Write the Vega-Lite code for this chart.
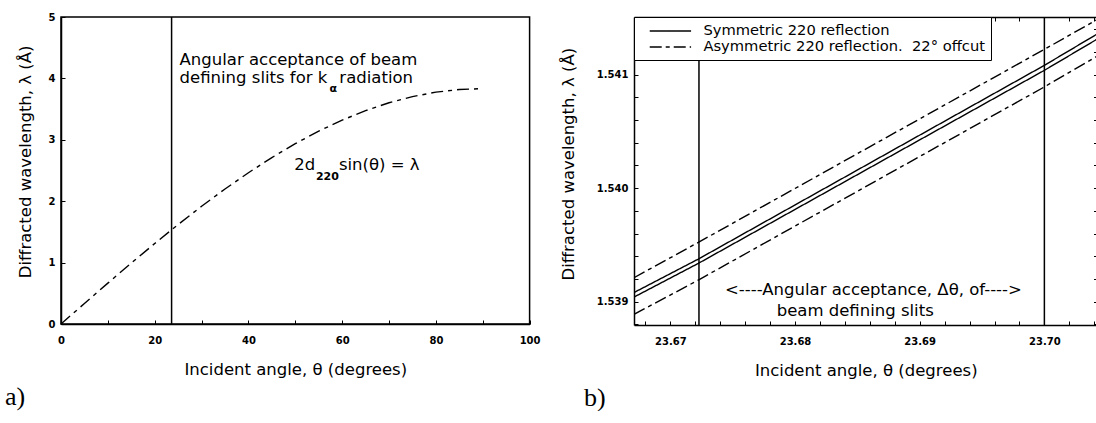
{
  "$schema": "https://vega.github.io/schema/vega-lite/v6.json",
  "background": "white",
  "padding": {"left": 4, "top": 11, "right": 0, "bottom": 0},
  "spacing": 19,
  "resolve": {"legend": {"strokeDash": "independent"}},
  "config": {
    "axis": {
      "grid": false,
      "tickSize": -4,
      "tickColor": "black",
      "tickWidth": 1,
      "domainColor": "black",
      "domainWidth": 1.5,
      "labelFont": "DejaVu Sans",
      "labelFontSize": 10,
      "labelFontWeight": "bold",
      "labelColor": "black",
      "labelOverlap": false,
      "labelFlush": false,
      "titleFont": "DejaVu Sans",
      "titleFontSize": 16.5,
      "titleFontWeight": "normal",
      "titleColor": "black"
    },
    "axisX": {"labelPadding": 15, "titlePadding": 16},
    "axisY": {"labelPadding": 10}
  },
  "hconcat": [
    {
      "width": 468.6,
      "height": 307,
      "title": {"text": "a)", "orient": "bottom", "anchor": "start", "font": "Liberation Serif", "fontSize": 26, "fontWeight": "normal", "color": "black", "offset": 6, "dx": -12},
      "view": {"stroke": "black", "strokeWidth": 1.5},
      "layer": [
        {
          "data": {"values": [
            {"theta": 0, "lambda": 0},
            {"theta": 5, "lambda": 0.334},
            {"theta": 10, "lambda": 0.666},
            {"theta": 15, "lambda": 0.992},
            {"theta": 20, "lambda": 1.311},
            {"theta": 23.6, "lambda": 1.535},
            {"theta": 25, "lambda": 1.620},
            {"theta": 30, "lambda": 1.917},
            {"theta": 35, "lambda": 2.199},
            {"theta": 40, "lambda": 2.464},
            {"theta": 45, "lambda": 2.711},
            {"theta": 50, "lambda": 2.937},
            {"theta": 55, "lambda": 3.141},
            {"theta": 60, "lambda": 3.320},
            {"theta": 65, "lambda": 3.475},
            {"theta": 70, "lambda": 3.603},
            {"theta": 75, "lambda": 3.703},
            {"theta": 80, "lambda": 3.776},
            {"theta": 85, "lambda": 3.819},
            {"theta": 90, "lambda": 3.834}
          ]},
          "mark": {"type": "line", "color": "black", "strokeWidth": 1.4, "strokeDash": [12, 5, 4, 5]},
          "encoding": {
            "x": {"field": "theta", "type": "quantitative", "scale": {"domain": [0, 100], "nice": false},
                  "axis": {"title": "Incident angle, θ (degrees)", "values": [0, 10, 20, 30, 40, 50, 60, 70, 80, 90, 100],
                           "labelExpr": "datum.value % 20 === 0 ? format(datum.value, 'd') : ''"}},
            "y": {"field": "lambda", "type": "quantitative", "scale": {"domain": [0, 5], "nice": false},
                  "axis": {"title": "Diffracted wavelength, λ (Å)", "titlePadding": 15, "titleY": 144.4,
                           "values": [0, 0.5, 1, 1.5, 2, 2.5, 3, 3.5, 4, 4.5, 5],
                           "labelExpr": "datum.value % 1 === 0 ? format(datum.value, 'd') : ''"}}
          }
        },
        {
          "data": {"values": [{"theta": 23.6}]},
          "mark": {"type": "rule", "color": "black", "strokeWidth": 1.5},
          "encoding": {"x": {"field": "theta", "type": "quantitative"}}
        },
        {
          "data": {"values": [
            {"theta": 25.3, "lambda": 4.212, "label": "Angular acceptance of beam"},
            {"theta": 25.3, "lambda": 3.925, "label": "defining slits for k"},
            {"theta": 59.4, "lambda": 3.925, "label": "radiation"},
            {"theta": 49.8, "lambda": 2.513, "label": "2d"},
            {"theta": 59.3, "lambda": 2.513, "label": "sin(θ) = λ"}
          ]},
          "mark": {"type": "text", "align": "left", "baseline": "alphabetic", "font": "DejaVu Sans", "fontSize": 16.5, "color": "black"},
          "encoding": {
            "x": {"field": "theta", "type": "quantitative"},
            "y": {"field": "lambda", "type": "quantitative"},
            "text": {"field": "label"}
          }
        },
        {
          "data": {"values": [
            {"theta": 57.3, "lambda": 3.78, "label": "α"},
            {"theta": 54.4, "lambda": 2.35, "label": "220"}
          ]},
          "mark": {"type": "text", "align": "left", "baseline": "alphabetic", "font": "DejaVu Sans", "fontSize": 11, "fontWeight": "bold", "color": "black"},
          "encoding": {
            "x": {"field": "theta", "type": "quantitative"},
            "y": {"field": "lambda", "type": "quantitative"},
            "text": {"field": "label"}
          }
        }
      ]
    },
    {
      "width": 463.5,
      "height": 308,
      "title": {"text": "b)", "orient": "bottom", "anchor": "start", "font": "Liberation Serif", "fontSize": 26, "fontWeight": "normal", "color": "black", "offset": 6, "dx": 23},
      "view": {"stroke": null},
      "resolve": {"axis": {"x": "independent", "y": "independent"}},
      "layer": [
        {
          "data": {"values": [
            {"theta": 23.66709, "lambda": 1.539080, "line": "s1", "type": "Symmetric 220 reflection"},
            {"theta": 23.67225, "lambda": 1.539375, "line": "s1", "type": "Symmetric 220 reflection"},
            {"theta": 23.70, "lambda": 1.541082, "line": "s1", "type": "Symmetric 220 reflection"},
            {"theta": 23.70426, "lambda": 1.541360, "line": "s1", "type": "Symmetric 220 reflection"},
            {"theta": 23.66709, "lambda": 1.539040, "line": "s2", "type": "Symmetric 220 reflection"},
            {"theta": 23.67225, "lambda": 1.539337, "line": "s2", "type": "Symmetric 220 reflection"},
            {"theta": 23.70, "lambda": 1.541038, "line": "s2", "type": "Symmetric 220 reflection"},
            {"theta": 23.70426, "lambda": 1.541315, "line": "s2", "type": "Symmetric 220 reflection"},
            {"theta": 23.66709, "lambda": 1.539211, "line": "a1", "type": "Asymmetric 220 reflection.  22° offcut"},
            {"theta": 23.67225, "lambda": 1.539522, "line": "a1", "type": "Asymmetric 220 reflection.  22° offcut"},
            {"theta": 23.70, "lambda": 1.541223, "line": "a1", "type": "Asymmetric 220 reflection.  22° offcut"},
            {"theta": 23.70426, "lambda": 1.541487, "line": "a1", "type": "Asymmetric 220 reflection.  22° offcut"},
            {"theta": 23.66709, "lambda": 1.538888, "line": "a2", "type": "Asymmetric 220 reflection.  22° offcut"},
            {"theta": 23.67225, "lambda": 1.539190, "line": "a2", "type": "Asymmetric 220 reflection.  22° offcut"},
            {"theta": 23.70, "lambda": 1.540892, "line": "a2", "type": "Asymmetric 220 reflection.  22° offcut"},
            {"theta": 23.70426, "lambda": 1.541165, "line": "a2", "type": "Asymmetric 220 reflection.  22° offcut"}
          ]},
          "mark": {"type": "line", "color": "black", "strokeWidth": 1.4, "clip": true},
          "encoding": {
            "x": {"field": "theta", "type": "quantitative", "scale": {"domain": [23.66709, 23.70426], "nice": false, "zero": false},
                  "axis": {"orient": "bottom", "title": "Incident angle, θ (degrees)",
                           "values": [23.668, 23.670, 23.672, 23.674, 23.676, 23.678, 23.680, 23.682, 23.684, 23.686, 23.688, 23.690, 23.692, 23.694, 23.696, 23.698, 23.700, 23.702, 23.704],
                           "labelExpr": "round(datum.value * 1000) % 10 === 0 ? format(datum.value, '.2f') : ''"}},
            "y": {"field": "lambda", "type": "quantitative", "scale": {"domain": [1.538794, 1.541508], "nice": false, "zero": false},
                  "axis": {"orient": "left", "title": "Diffracted wavelength, λ (Å)", "titlePadding": 19.4, "titleY": 146.7,
                           "values": [1.5388, 1.539, 1.5392, 1.5394, 1.5396, 1.5398, 1.54, 1.5402, 1.5404, 1.5406, 1.5408, 1.541, 1.5412, 1.5414],
                           "labelExpr": "round(datum.value * 10000) % 10 === 0 ? format(datum.value, '.3f') : ''"}},
            "detail": {"field": "line"},
            "strokeDash": {"field": "type", "type": "nominal",
                           "scale": {"domain": ["Symmetric 220 reflection", "Asymmetric 220 reflection.  22° offcut"], "range": [[1, 0], [12, 4, 4, 4]]},
                           "legend": {"orient": "top-left", "title": null, "offset": 0, "padding": 6, "strokeColor": "black", "fillColor": "white",
                                      "symbolType": "M-3,0H3", "symbolSize": 190, "symbolStrokeWidth": 1.5, "symbolStrokeColor": "black",
                                      "symbolOffset": 22.4, "labelFont": "DejaVu Sans", "labelFontSize": 14.7, "labelColor": "black",
                                      "labelOffset": 25, "rowPadding": 1, "labelLimit": 400,
                                      "labelExpr": "replace(datum.label, '.  22', '.\u00a0\u00a022')"}}
          }
        },
        {
          "data": {"values": [{"theta": 23.6723}, {"theta": 23.70}]},
          "mark": {"type": "rule", "color": "black", "strokeWidth": 1.5},
          "encoding": {
            "x": {"field": "theta", "type": "quantitative",
                  "axis": {"orient": "top", "title": null, "labels": false,
                           "values": [23.668, 23.670, 23.672, 23.674, 23.676, 23.678, 23.680, 23.682, 23.684, 23.686, 23.688, 23.690, 23.692, 23.694, 23.696, 23.698, 23.700, 23.702, 23.704]}}
          }
        },
        {
          "data": {"values": [
            {"theta": 23.67439, "lambda": 1.539058, "label": "<----Angular acceptance, Δθ, of---->"},
            {"theta": 23.67853, "lambda": 1.538877, "label": "beam defining slits"}
          ]},
          "mark": {"type": "text", "align": "left", "baseline": "alphabetic", "font": "DejaVu Sans", "fontSize": 16.5, "color": "black"},
          "encoding": {
            "x": {"field": "theta", "type": "quantitative", "axis": null},
            "y": {"field": "lambda", "type": "quantitative",
                  "axis": {"orient": "right", "title": null, "labels": false, "domain": false,
                           "values": [1.5388, 1.539, 1.5392, 1.5394, 1.5396, 1.5398, 1.54, 1.5402, 1.5404, 1.5406, 1.5408, 1.541, 1.5412, 1.5414]}},
            "text": {"field": "label"}
          }
        }
      ]
    }
  ]
}
